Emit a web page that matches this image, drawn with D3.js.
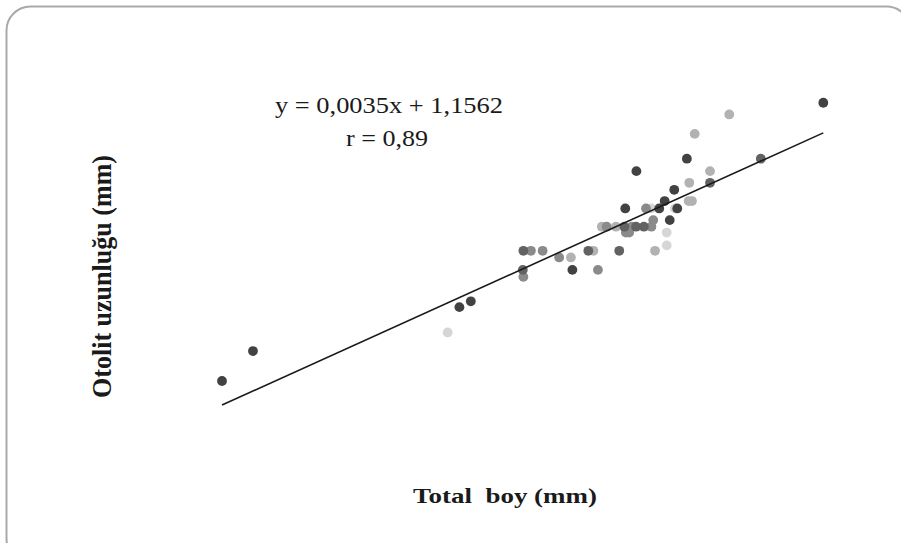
<!DOCTYPE html>
<html>
<head>
<meta charset="utf-8">
<script src="https://cdn.jsdelivr.net/npm/d3@7"></script>
<style>
  body { margin: 0; background: #fff; }
  svg { display: block; }
  text { font-family: 'Liberation Serif', serif; }
</style>
</head>
<body>
<svg id="chart"></svg>
<script>
const width = 901
const height = 543

// total length (mm), otolith length (mm), gray group of each fish
const totalLength = [
  260.1, 214.7, 197.9, 210.5, 194.2, 205.5, 211.5, 209.0, 176.6, 139.0, 142.8, 70.3, 60.0, 207.3,
  239.3, 222.4, 197.8, 200.4, 160.3, 181.9, 192.2, 160.1, 193.9,
  201.1, 188.0, 196.4, 202.9, 194.4, 195.5, 203.5, 162.8, 166.7, 172.2, 185.1, 160.3,
  228.8, 217.3, 222.4, 215.5, 186.4, 191.1, 183.6, 204.1, 176.1, 215.3, 216.4,
  202.8, 210.7, 208.0, 208.0, 135.1
]
const otolithLength = [
  2.144, 2.000, 1.968, 1.920, 1.872, 1.872, 1.872, 1.842, 1.714, 1.618, 1.633, 1.505, 1.428, 1.891,
  2.000, 1.938, 1.825, 1.825, 1.763, 1.763, 1.763, 1.714, 1.825,
  1.872, 1.825, 1.825, 1.825, 1.810, 1.810, 1.842, 1.763, 1.763, 1.746, 1.714, 1.696,
  2.114, 2.064, 1.968, 1.938, 1.825, 1.825, 1.763, 1.763, 1.746, 1.891, 1.891,
  1.872, 1.872, 1.810, 1.777, 1.553
]
const groups = [
  'A', 'A', 'A', 'A', 'A', 'A', 'A', 'A', 'A', 'A', 'A', 'A', 'A', 'A',
  'B', 'B', 'B', 'B', 'B', 'B', 'B', 'B', 'B',
  'C', 'C', 'C', 'C', 'C', 'C', 'C', 'C', 'C', 'C', 'C', 'C',
  'D', 'D', 'D', 'D', 'D', 'D', 'D', 'D', 'D', 'D', 'D',
  'E', 'E', 'E', 'E', 'E'
]
const groupNames = ['A', 'B', 'C', 'D', 'E']
const slope = 0.0035
const intercept = 1.1562
const r = 0.89

const data = totalLength.map((d, i) => ({ x: d, y: otolithLength[i], g: groups[i] }))

const svg = d3.select('#chart').attr('width', width).attr('height', height)

// rounded frame
svg.append('rect')
  .attr('x', 6.5)
  .attr('y', 6.5)
  .attr('width', 904)
  .attr('height', 556)
  .attr('rx', 24)
  .attr('fill', 'none')
  .attr('stroke', '#a9a9ab')
  .attr('stroke-width', 2)

const xScale = d3.scaleLinear().domain([60, 260]).range([222, 823])
const yScale = d3.scaleLinear().domain([60 * slope + intercept, 260 * slope + intercept]).range([405, 133])

const colorScale = d3.scaleOrdinal()
  .domain(groupNames)
  .range(['#424242', '#626262', '#8a8a8a', '#b2b2b2', '#d6d6d6'])

// draw lighter groups first
const order = ['E', 'D', 'C', 'B', 'A']
svg.append('g')
  .selectAll('circle')
  .data(data.slice().sort((a, b) => order.indexOf(a.g) - order.indexOf(b.g)))
  .join('circle')
  .attr('cx', d => xScale(d.x))
  .attr('cy', d => yScale(d.y))
  .attr('r', 4.9)
  .attr('fill', d => colorScale(d.g))

// regression line
const [xMin, xMax] = d3.extent(data, d => d.x)
svg.append('line')
  .attr('x1', xScale(xMin))
  .attr('y1', yScale(slope * xMin + intercept))
  .attr('x2', xScale(xMax))
  .attr('y2', yScale(slope * xMax + intercept))
  .attr('stroke', '#1a1a1a')
  .attr('stroke-width', 1.6)

const fmt = v => String(v).replace('.', ',')

svg.append('text')
  .attr('x', 275)
  .attr('y', 113)
  .attr('textLength', 228)
  .attr('lengthAdjust', 'spacingAndGlyphs')
  .attr('font-size', 24)
  .attr('fill', '#1a1a1a')
  .text(`y = ${fmt(slope)}x + ${fmt(intercept)}`)

svg.append('text')
  .attr('x', 346)
  .attr('y', 146)
  .attr('textLength', 82)
  .attr('lengthAdjust', 'spacingAndGlyphs')
  .attr('font-size', 24)
  .attr('fill', '#1a1a1a')
  .text(`r = ${fmt(r)}`)

svg.append('text')
  .attr('x', 413)
  .attr('y', 503)
  .attr('textLength', 184)
  .attr('lengthAdjust', 'spacingAndGlyphs')
  .attr('font-size', 21)
  .attr('font-weight', 'bold')
  .style('white-space', 'pre')
  .attr('fill', '#1a1a1a')
  .text('Total  boy (mm)')

svg.append('text')
  .attr('transform', 'translate(111, 398) rotate(-90)')
  .attr('textLength', 243)
  .attr('lengthAdjust', 'spacingAndGlyphs')
  .attr('font-size', 28)
  .attr('font-weight', 'bold')
  .attr('fill', '#1a1a1a')
  .text('Otolit uzunluğu (mm)')
</script>
</body>
</html>
